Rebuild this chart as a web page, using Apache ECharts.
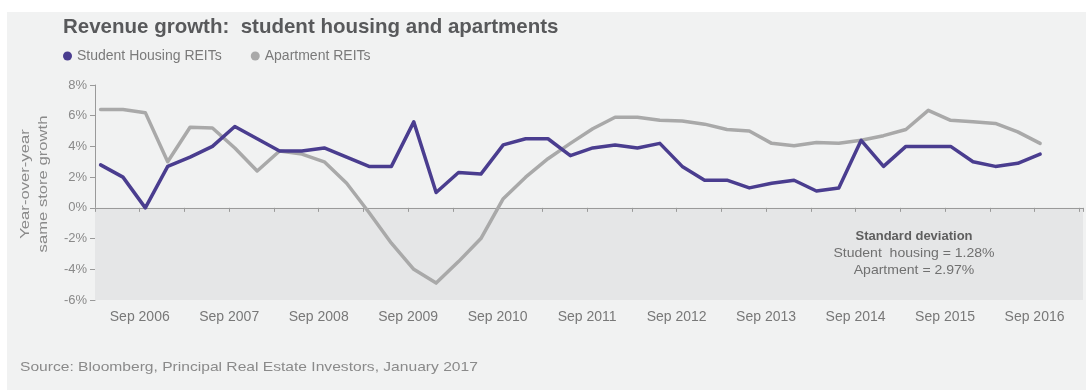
<!DOCTYPE html>
<html>
<head>
<meta charset="utf-8">
<script src="https://cdn.jsdelivr.net/npm/echarts@6/dist/echarts.min.js"></script>
<style>
  html, body { margin: 0; padding: 0; background: #ffffff; }
  #chart { width: 1086px; height: 390px; }
</style>
</head>
<body>
<div id="chart"></div>
<script>
// Quarterly observations, Mar 2006 through Sep 2016
const quarters = [
  'Mar 2006', 'Jun 2006', 'Sep 2006', 'Dec 2006',
  'Mar 2007', 'Jun 2007', 'Sep 2007', 'Dec 2007',
  'Mar 2008', 'Jun 2008', 'Sep 2008', 'Dec 2008',
  'Mar 2009', 'Jun 2009', 'Sep 2009', 'Dec 2009',
  'Mar 2010', 'Jun 2010', 'Sep 2010', 'Dec 2010',
  'Mar 2011', 'Jun 2011', 'Sep 2011', 'Dec 2011',
  'Mar 2012', 'Jun 2012', 'Sep 2012', 'Dec 2012',
  'Mar 2013', 'Jun 2013', 'Sep 2013', 'Dec 2013',
  'Mar 2014', 'Jun 2014', 'Sep 2014', 'Dec 2014',
  'Mar 2015', 'Jun 2015', 'Sep 2015', 'Dec 2015',
  'Mar 2016', 'Jun 2016', 'Sep 2016'
];

// Year-over-year same store revenue growth, %
const studentHousing = [
  2.8, 2.0, 0.0, 2.7,
  3.3, 4.0, 5.3, 4.5,
  3.7, 3.7, 3.9, 3.3,
  2.7, 2.7, 5.6, 1.0,
  2.3, 2.2, 4.1, 4.5,
  4.5, 3.4, 3.9, 4.1,
  3.9, 4.2, 2.7, 1.8,
  1.8, 1.3, 1.6, 1.8,
  1.1, 1.3, 4.4, 2.7,
  4.0, 4.0, 4.0, 3.0,
  2.7, 2.9, 3.5
];
const apartments = [
  6.4, 6.4, 6.2, 3.0,
  5.25, 5.2, 3.9, 2.4,
  3.7, 3.5, 3.0, 1.6,
  -0.3, -2.3, -4.0, -4.9,
  -3.5, -2.0, 0.6, 2.0,
  3.2, 4.2, 5.15, 5.9,
  5.9, 5.7, 5.65, 5.45,
  5.1, 5.0, 4.2, 4.05,
  4.25, 4.2, 4.4, 4.7,
  5.1, 6.35, 5.7, 5.6,
  5.5, 4.95, 4.2
];

// x-axis labels, one per September
const tickLabels = [
  'Sep 2006', 'Sep 2007', 'Sep 2008', 'Sep 2009', 'Sep 2010', 'Sep 2011',
  'Sep 2012', 'Sep 2013', 'Sep 2014', 'Sep 2015', 'Sep 2016'
];
const yTicks = { min: -6, max: 8, step: 2 };

// The x axis counts months from March 2006; each quarterly reading
// sits a little past its quarter tick.
const MONTHS_PER_QUARTER = 3;
const READING_OFFSET = 0.75;
const toPoints = (values) =>
  values.map((v, i) => [i * MONTHS_PER_QUARTER + READING_OFFSET, v]);

const FONT = "'Liberation Sans', Arial, sans-serif";
const PURPLE = '#4a3d8f';
const GREY = '#a9a9a9';
const X_MIN = 0, X_MAX = 132.5, X_STEP = 6;

const chart = echarts.init(document.getElementById('chart'), null, { renderer: 'canvas' });

chart.setOption({
  backgroundColor: '#ffffff',
  animation: false,
  title: {
    text: 'Revenue growth:  student housing and apartments',
    left: 58,
    top: 12,
    textStyle: { fontFamily: FONT, fontSize: 20.5, fontWeight: 'bold', color: '#58595b' }
  },
  legend: {
    left: 58,
    top: 44,
    icon: 'circle',
    itemWidth: 9,
    itemHeight: 9,
    itemGap: 29,
    data: ['Student Housing REITs', 'Apartment REITs'],
    textStyle: { fontFamily: FONT, fontSize: 14, color: '#7a7a7a' }
  },
  grid: { left: 95, right: 2, top: 85, bottom: 90, containLabel: false },
  xAxis: [
    {
      // labels along the bottom of the plot
      type: 'value',
      min: X_MIN, max: X_MAX, interval: X_STEP,
      position: 'bottom',
      axisLine: { show: false, onZero: false },
      axisTick: { show: false },
      splitLine: { show: false },
      axisLabel: {
        margin: 10,
        fontFamily: FONT, fontSize: 14, color: '#787878',
        formatter: (v) => (v % 12 === 6 ? tickLabels[(v - 6) / 12] : '')
      }
    },
    {
      // baseline at 0% with half-year ticks
      type: 'value',
      min: X_MIN, max: X_MAX, interval: X_STEP,
      position: 'bottom',
      z: 1,
      axisLine: { show: true, onZero: true, lineStyle: { color: '#9a9a9a', width: 1 } },
      axisTick: { show: true, length: 4, lineStyle: { color: '#9a9a9a' } },
      axisLabel: { show: false },
      splitLine: { show: false }
    }
  ],
  yAxis: {
    type: 'value',
    min: yTicks.min, max: yTicks.max, interval: yTicks.step,
    axisLine: { show: true, lineStyle: { color: '#9a9a9a', width: 1 } },
    axisTick: { show: true, length: 5, lineStyle: { color: '#9a9a9a' } },
    splitLine: { show: false },
    axisLabel: {
      margin: 8,
      fontFamily: FONT, fontSize: 13, color: '#8a8a8a',
      formatter: '{value}%'
    }
  },
  series: [
    {
      // shaded band below zero
      type: 'line',
      data: [],
      silent: true,
      z: 0,
      markArea: {
        silent: true,
        itemStyle: { color: '#e5e6e7' },
        data: [[{ xAxis: X_MIN, yAxis: yTicks.min }, { xAxis: X_MAX, yAxis: 0 }]]
      }
    },
    {
      name: 'Apartment REITs',
      type: 'line',
      data: toPoints(apartments),
      showSymbol: false,
      z: 2,
      itemStyle: { color: GREY },
      lineStyle: { color: GREY, width: 3.5, join: 'round', cap: 'round' }
    },
    {
      name: 'Student Housing REITs',
      type: 'line',
      data: toPoints(studentHousing),
      showSymbol: false,
      z: 3,
      itemStyle: { color: PURPLE },
      lineStyle: { color: PURPLE, width: 3.5, join: 'round', cap: 'round' }
    }
  ],
  graphic: [
    {
      type: 'rect',
      z: -100,
      silent: true,
      shape: { x: 7, y: 12, width: 1079, height: 378 },
      style: { fill: '#f1f2f2' }
    },
    {
      type: 'text',
      x: 34, y: 184,
      z: 50,
      rotation: Math.PI / 2,
      scaleX: 1.28,
      silent: true,
      style: {
        text: 'Year-over-year\nsame store growth',
        fontFamily: FONT, fontSize: 13, lineHeight: 18,
        fill: '#8a8a8a', align: 'center', verticalAlign: 'middle'
      }
    },
    {
      type: 'text',
      x: 914, y: 236,
      z: 50,
      silent: true,
      style: {
        text: 'Standard deviation',
        fontFamily: FONT, fontSize: 13, fontWeight: 'bold',
        fill: '#5e5e5e', align: 'center', verticalAlign: 'middle'
      }
    },
    {
      type: 'text',
      x: 914, y: 253,
      z: 50,
      scaleX: 1.08,
      silent: true,
      style: {
        text: 'Student  housing = 1.28%',
        fontFamily: FONT, fontSize: 13,
        fill: '#707070', align: 'center', verticalAlign: 'middle'
      }
    },
    {
      type: 'text',
      x: 914, y: 270,
      z: 50,
      scaleX: 1.08,
      silent: true,
      style: {
        text: 'Apartment = 2.97%',
        fontFamily: FONT, fontSize: 13,
        fill: '#707070', align: 'center', verticalAlign: 'middle'
      }
    },
    {
      type: 'text',
      x: 20, y: 367,
      z: 50,
      scaleX: 1.2,
      silent: true,
      style: {
        text: 'Source: Bloomberg, Principal Real Estate Investors, January 2017',
        fontFamily: FONT, fontSize: 13,
        fill: '#8a8a8a', align: 'left', verticalAlign: 'middle'
      }
    }
  ]
});
</script>
</body>
</html>
